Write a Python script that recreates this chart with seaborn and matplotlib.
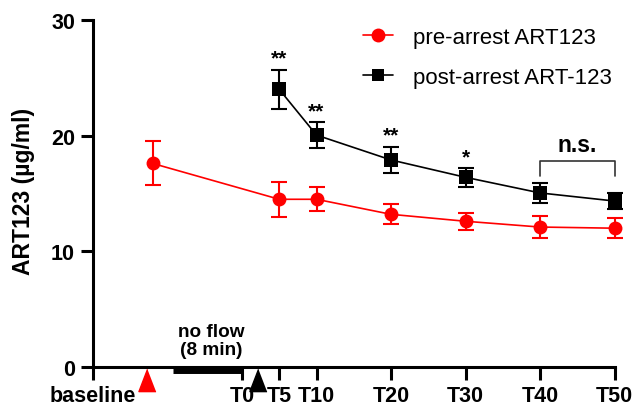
import matplotlib
matplotlib.use("Agg")
import matplotlib.pyplot as plt
import seaborn as sns
import pandas as pd
from matplotlib.lines import Line2D

# tiempos en minutos (baseline = -20)
tick_pos = [-20, 0, 5, 10, 20, 30, 40, 50]
tick_labels = ["baseline", "T0", "T5", "T10", "T20", "T30", "T40", "T50"]

pre_time = [-12, 5, 10, 20, 30, 40, 50]
pre_mean = [17.6, 14.5, 14.5, 13.2, 12.6, 12.1, 12.0]
pre_err = [1.9, 1.5, 1.05, 0.85, 0.75, 0.95, 0.85]

post_time = [5, 10, 20, 30, 40, 50]
post_mean = [24.0, 20.05, 17.9, 16.4, 15.05, 14.35]
post_err = [1.7, 1.1, 1.15, 0.8, 0.9, 0.7]
post_sig = ["**", "**", "**", "*", "", ""]

# eventos sobre el eje x
red_arrow_t = -12.8
black_arrow_t = 2.2
noflow_start, noflow_end = -9.3, 0

df = pd.concat([
    pd.DataFrame({"t": pre_time, "v": pre_mean, "g": "pre-arrest ART123"}),
    pd.DataFrame({"t": post_time, "v": post_mean, "g": "post-arrest ART-123"}),
])

sns.set_style("ticks")
plt.rcParams["font.family"] = ["Liberation Sans", "DejaVu Sans"]
plt.rcParams["text.color"] = "black"
plt.rcParams["axes.labelcolor"] = "black"

fig = plt.figure(figsize=(6.35, 4.10), dpi=100)
ax = fig.add_axes([93 / 635, 1 - 368 / 410, 521.5 / 635, 347 / 410])

palette = {"pre-arrest ART123": "#ff0000", "post-arrest ART-123": "#000000"}
sns.lineplot(data=df, x="t", y="v", hue="g", style="g", palette=palette,
             markers={"pre-arrest ART123": "o", "post-arrest ART-123": "s"},
             dashes=False, markersize=10, linewidth=1.2, markeredgewidth=0,
             legend=False, ax=ax, clip_on=False, zorder=3)

ax.errorbar(pre_time, pre_mean, yerr=pre_err, fmt="none", ecolor="#ff0000",
            elinewidth=1.5, capsize=6, capthick=1.5, clip_on=False, zorder=2)
ax.errorbar(post_time, post_mean, yerr=post_err, fmt="none", ecolor="#000000",
            elinewidth=1.5, capsize=6, capthick=1.5, clip_on=False, zorder=2)

# asteriscos
for t, m, e, s in zip(post_time, post_mean, post_err, post_sig):
    if s:
        ax.text(t, m + e + 1.0, s, ha="center", va="center",
                fontsize=15, fontweight="bold")

# n.s.
br_y, br_leg = 17.8, 16.5
ax.plot([40, 40, 50, 50], [br_leg, br_y, br_y, br_leg], color="#333333",
        lw=1.2, clip_on=False)
ax.text(45, br_y + 1.4, "n.s.", ha="center", va="center",
        fontsize=16.5, fontweight="bold")

# no flow
ax.plot([noflow_start, noflow_end], [-0.3, -0.3], color="black", lw=5,
        solid_capstyle="butt", clip_on=False)
ax.text(-4.1, 2.3, "no flow\n(8 min)", ha="center", va="center",
        fontsize=13.7, fontweight="bold", linespacing=1.05)

# flechas
tri = [(0, 1), (-0.77, -1), (0.77, -1)]
ax.plot([red_arrow_t], [-1.12], marker=tri, markersize=16, color="#ff0000",
        lw=0, clip_on=False)
ax.plot([black_arrow_t], [-1.12], marker=tri, markersize=16, color="black",
        lw=0, clip_on=False)

ax.set_xlim(-20, 50)
ax.set_ylim(0, 30)
ax.set_xticks(tick_pos)
ax.set_xticklabels(tick_labels)
ax.set_yticks([0, 10, 20, 30])
for lab in ax.get_xticklabels() + ax.get_yticklabels():
    lab.set_fontweight("bold")
    lab.set_fontsize(15.5)
ax.tick_params(width=2.2, length=9, pad=4, colors="black")
ax.set_xlabel("")
ax.set_ylabel("ART123 (µg/ml)", fontsize=16.5, fontweight="bold")
ax.yaxis.set_label_coords(-0.112, 0.51)
for sp in ["left", "bottom"]:
    ax.spines[sp].set_linewidth(2.2)
    ax.spines[sp].set_color("black")
sns.despine(ax=ax)

handles = [
    Line2D([], [], color="#ff0000", marker="o", markersize=10, lw=1.2,
           markeredgewidth=0),
    Line2D([], [], color="black", marker="s", markersize=9, lw=1.2,
           markeredgewidth=0),
]
fig.legend(handles, ["pre-arrest ART123", "post-arrest ART-123"],
           loc="upper left", bbox_to_anchor=(363 / 635, 1 - 28 / 410),
           frameon=False, fontsize=16, handlelength=1.36, handletextpad=0.9,
           labelspacing=0.85, borderpad=0, borderaxespad=0)

fig.savefig("out.png", dpi=100)
